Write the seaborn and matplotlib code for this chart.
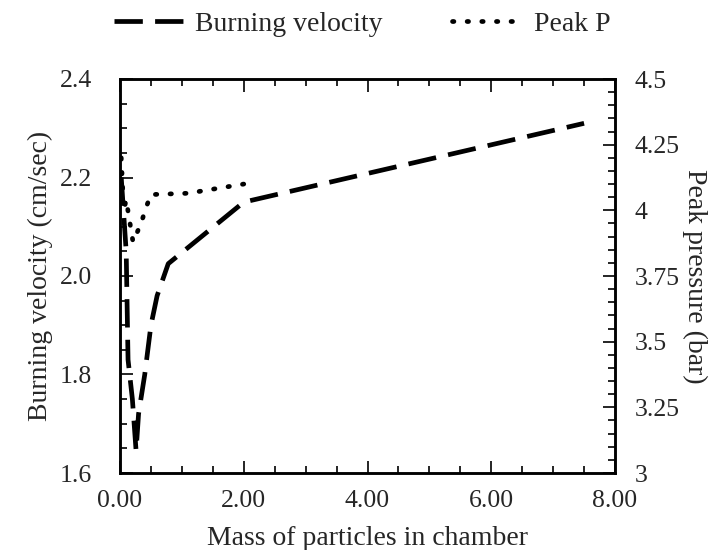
import numpy as np
import pandas as pd
import matplotlib
matplotlib.use("Agg")
import matplotlib.pyplot as plt
from matplotlib.ticker import MultipleLocator, FuncFormatter
import seaborn as sns

# Burning velocity (left axis)
mass_bv = [0.02, 0.10, 0.13, 0.20, 0.26, 0.30, 0.40, 0.50, 0.60, 0.78, 2.00, 7.50]
burning_velocity = [2.20, 2.05, 1.83, 1.75, 1.645, 1.72, 1.80, 1.90, 1.96, 2.025, 2.15, 2.31]

# Peak pressure (right axis)
mass_pp = [0.02, 0.06, 0.10, 0.21, 0.34, 0.42, 0.50, 1.10, 2.00]
peak_pressure = [4.20, 4.00, 4.04, 3.88, 3.95, 4.01, 4.06, 4.065, 4.10]

FONT = ["Liberation Serif", "DejaVu Serif"]

sns.set_style("ticks")
plt.rcParams["font.family"] = FONT

df_bv = pd.DataFrame({"mass": mass_bv, "bv": burning_velocity})
df_pp = pd.DataFrame({"mass": mass_pp, "pp": peak_pressure})

fig = plt.figure(figsize=(7.15, 5.5), dpi=100)
ax = fig.add_axes([120 / 715, 77 / 550, 495 / 715, 394 / 550])
ax2 = ax.twinx()

sns.lineplot(data=df_bv, x="mass", y="bv", ax=ax, color="black", lw=3.4,
             sort=False, estimator=None, label="Burning velocity",
             legend=False)
ax.lines[0].set_dashes((6, 2.6))

sns.lineplot(data=df_pp, x="mass", y="pp", ax=ax2, color="black", lw=3.4,
             sort=False, estimator=None, label="Peak P", legend=False)
ax2.lines[0].set_dashes((0.3, 2.8))
ax2.lines[0].set_dash_capstyle("round")

ax.set_xlim(0, 8)
ax.set_ylim(1.6, 2.4)
ax2.set_ylim(3, 4.5)

ax.xaxis.set_major_locator(MultipleLocator(2))
ax.xaxis.set_minor_locator(MultipleLocator(0.5))
ax.yaxis.set_major_locator(MultipleLocator(0.2))
ax.yaxis.set_minor_locator(MultipleLocator(0.05))
ax2.yaxis.set_major_locator(MultipleLocator(0.25))
ax2.yaxis.set_minor_locator(MultipleLocator(0.05))

ax.xaxis.set_major_formatter(FuncFormatter(lambda v, p: f"{v:.2f}"))
ax.yaxis.set_major_formatter(FuncFormatter(lambda v, p: f"{v:.1f}"))
ax2.yaxis.set_major_formatter(FuncFormatter(lambda v, p: f"{v:g}"))

ax.tick_params(axis="x", which="both", direction="in", top=True, bottom=True,
               pad=12, labelsize=18.5)
ax.tick_params(axis="y", which="both", direction="in", left=True, right=False,
               pad=20, labelsize=18.5)
ax2.tick_params(axis="y", which="both", direction="in", right=True,
                pad=14, labelsize=18.5)
for a in (ax, ax2):
    a.tick_params(which="major", length=9, width=1.2, color="black")
    a.tick_params(which="minor", length=5, width=1.2, color="black")
    for s in a.spines.values():
        s.set_linewidth(1.8)
        s.set_color("black")
        s.set_visible(True)

ax.set_xlabel("Mass of particles in chamber", fontsize=20, labelpad=10)
ax.set_ylabel("Burning velocity (cm/sec)", fontsize=20, labelpad=5)
ax2.set_ylabel("Peak pressure (bar)", fontsize=20, rotation=270, labelpad=20)

handles = [ax.lines[0], ax2.lines[0]]
fig.legend(handles, ["Burning velocity", "Peak P"], loc="center",
           bbox_to_anchor=(362 / 715, 1 - 24 / 550), ncol=2, frameon=False,
           fontsize=20, handlelength=2.6, handletextpad=0.33, columnspacing=2.5)

fig.savefig("out.png", dpi=100)
